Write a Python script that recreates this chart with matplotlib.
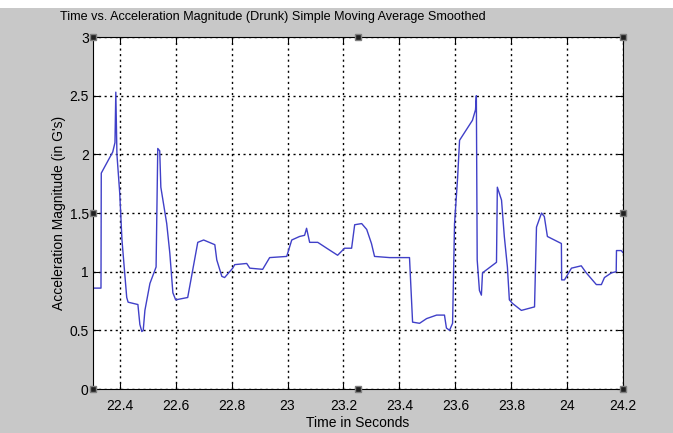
import numpy as np
import matplotlib
matplotlib.use('Agg')
import matplotlib.pyplot as plt

# time (s) and smoothed acceleration magnitude (G)
t = [22.304, 22.333, 22.334, 22.375, 22.383, 22.386, 22.390, 22.400, 22.408, 22.425,
     22.430, 22.465, 22.472, 22.479, 22.484, 22.490, 22.508, 22.530, 22.536, 22.543,
     22.547, 22.568, 22.579, 22.590, 22.600, 22.643, 22.679, 22.700, 22.740, 22.747,
     22.765, 22.775, 22.804, 22.811, 22.854, 22.865, 22.911, 22.936, 22.997, 23.015,
     23.043, 23.061, 23.068, 23.079, 23.108, 23.140, 23.179, 23.204, 23.229, 23.240,
     23.265, 23.283, 23.300, 23.311, 23.365, 23.436, 23.447, 23.472, 23.497, 23.533,
     23.561, 23.568, 23.579, 23.590, 23.597, 23.608, 23.615, 23.661, 23.672, 23.675,
     23.678, 23.686, 23.693, 23.697, 23.747, 23.750, 23.765, 23.775, 23.786, 23.793,
     23.804, 23.836, 23.883, 23.890, 23.908, 23.918, 23.929, 23.979, 23.980, 23.990,
     24.015, 24.050, 24.068, 24.104, 24.122, 24.133, 24.158, 24.175, 24.176, 24.193,
     24.200]
acc = [0.86, 0.86, 1.84, 2.02, 2.10, 2.53, 2.00, 1.67, 1.27, 0.78,
       0.74, 0.72, 0.55, 0.49, 0.50, 0.67, 0.90, 1.04, 2.05, 2.03,
       1.72, 1.41, 1.16, 0.82, 0.76, 0.78, 1.25, 1.27, 1.23, 1.10,
       0.96, 0.95, 1.03, 1.06, 1.07, 1.03, 1.02, 1.12, 1.13, 1.27,
       1.30, 1.31, 1.37, 1.25, 1.25, 1.20, 1.14, 1.20, 1.20, 1.40,
       1.41, 1.36, 1.24, 1.13, 1.12, 1.12, 0.57, 0.56, 0.60, 0.63,
       0.63, 0.52, 0.50, 0.56, 1.41, 1.80, 2.12, 2.29, 2.38, 2.50,
       1.10, 0.84, 0.80, 0.99, 1.08, 1.72, 1.61, 1.30, 1.04, 0.76,
       0.73, 0.67, 0.70, 1.38, 1.50, 1.47, 1.30, 1.24, 0.93, 0.93,
       1.03, 1.05, 0.99, 0.89, 0.89, 0.95, 0.99, 1.00, 1.18, 1.18,
       1.16]

xticks = [22.4, 22.6, 22.8, 23, 23.2, 23.4, 23.6, 23.8, 24, 24.2]
yticks = [0, 0.5, 1, 1.5, 2, 2.5, 3]

plt.rcParams['font.family'] = ['Liberation Sans', 'DejaVu Sans']
plt.rcParams['font.size'] = 10

fig = plt.figure(figsize=(6.73, 4.33), dpi=100)
fig.patch.set_facecolor('#c8c8c8')
# white strip along the top of the screenshot
fig.patches.append(plt.Rectangle((0, 0.982), 1, 0.018, transform=fig.transFigure,
                                 facecolor='white', edgecolor='none'))

ax = fig.add_axes([0.138, 0.1016, 0.788, 0.8129])
ax.plot(t, acc, color='#4040c8', linewidth=1.0)

ax.set_xlim(22.304, 24.2)
ax.set_ylim(0, 3)
ax.set_xticks(xticks)
ax.set_xticklabels([str(v) for v in xticks])
ax.set_yticks(yticks)
ax.set_yticklabels([str(v) for v in yticks])
ax.grid(True, linestyle=(0, (1.5, 2.5)), color='black', linewidth=1.0)
ax.tick_params(direction='in', top=True, right=True, length=4, labelsize=10)
ax.tick_params(axis='x', pad=7)
ax.tick_params(axis='y', pad=3)
for s in ax.spines.values():
    s.set_linewidth(0.8)

fig.text(0.089, 0.961,
         'Time vs. Acceleration Magnitude (Drunk) Simple Moving Average Smoothed',
         fontsize=9.1, ha='left', va='center')
ax.set_xlabel('Time in Seconds', labelpad=2)
ax.set_ylabel("Acceleration Magnitude (in G's)")
ax.yaxis.set_label_coords(-0.05, 0.5)

# selection handles on the axes box
hx = [0, 0.5, 1, 0, 1, 0, 0.5, 1]
hy = [0, 0, 0, 0.5, 0.5, 1, 1, 1]
ax.plot(hx, hy, linestyle='none', marker='s', markersize=5, color='#202020',
        markeredgecolor='#808080', transform=ax.transAxes, clip_on=False, zorder=5)

fig.savefig('out.png', dpi=100, facecolor=fig.get_facecolor())
